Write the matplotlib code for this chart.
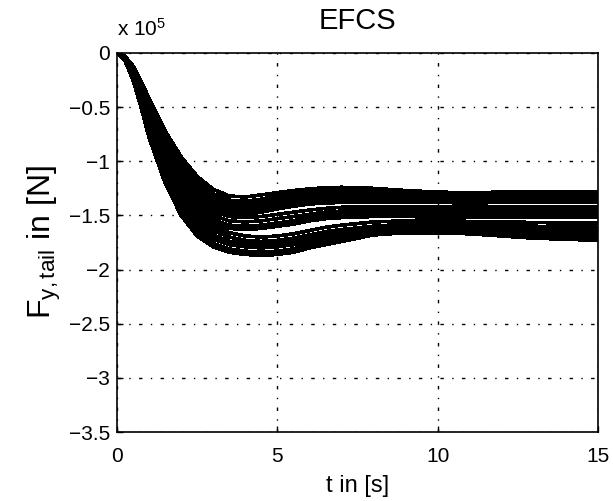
import numpy as np
import matplotlib
matplotlib.use("Agg")
import matplotlib.pyplot as plt

# lateral tail force, in units of 1e5 N, Monte-Carlo style runs
t = [0, 0.25, 0.5, 0.75, 1, 1.5, 2, 2.5, 3, 3.5, 4, 4.5, 5, 5.5, 6, 6.5, 7,
     8, 9, 10, 11, 12, 13, 14, 15]

# upper group
u1 = [0, -0.03, -0.12, -0.26, -0.42, -0.72, -0.96, -1.14, -1.26, -1.32, -1.33, -1.31, -1.29, -1.27, -1.255, -1.245, -1.24, -1.25, -1.27, -1.285, -1.29, -1.285, -1.28, -1.28, -1.28]
u2 = [0, -0.03, -0.13, -0.27, -0.44, -0.75, -0.99, -1.17, -1.30, -1.36, -1.37, -1.35, -1.32, -1.30, -1.285, -1.275, -1.27, -1.28, -1.29, -1.30, -1.305, -1.30, -1.30, -1.30, -1.30]
u3 = [0, -0.03, -0.13, -0.28, -0.45, -0.77, -1.02, -1.20, -1.33, -1.39, -1.40, -1.38, -1.35, -1.32, -1.305, -1.295, -1.29, -1.30, -1.31, -1.32, -1.325, -1.32, -1.32, -1.32, -1.32]
u4 = [0, -0.04, -0.14, -0.29, -0.47, -0.79, -1.05, -1.23, -1.36, -1.42, -1.43, -1.41, -1.38, -1.35, -1.335, -1.325, -1.32, -1.325, -1.335, -1.34, -1.345, -1.34, -1.34, -1.34, -1.34]
u5 = [0, -0.04, -0.14, -0.30, -0.48, -0.81, -1.08, -1.26, -1.39, -1.45, -1.46, -1.44, -1.41, -1.385, -1.365, -1.355, -1.35, -1.35, -1.355, -1.36, -1.365, -1.36, -1.36, -1.36, -1.36]
u6 = [0, -0.04, -0.15, -0.31, -0.50, -0.84, -1.11, -1.29, -1.42, -1.48, -1.49, -1.47, -1.44, -1.415, -1.395, -1.385, -1.38, -1.375, -1.375, -1.38, -1.385, -1.38, -1.38, -1.38, -1.38]

# middle group
m1 = [0, -0.04, -0.15, -0.32, -0.51, -0.86, -1.14, -1.34, -1.46, -1.51, -1.52, -1.51, -1.49, -1.47, -1.45, -1.435, -1.425, -1.42, -1.42, -1.42, -1.42, -1.42, -1.42, -1.42, -1.42]
m2 = [0, -0.04, -0.16, -0.33, -0.53, -0.89, -1.17, -1.38, -1.50, -1.55, -1.56, -1.55, -1.53, -1.51, -1.49, -1.47, -1.46, -1.45, -1.45, -1.455, -1.46, -1.46, -1.46, -1.46, -1.46]
m3 = [0, -0.05, -0.16, -0.34, -0.55, -0.92, -1.21, -1.42, -1.54, -1.59, -1.60, -1.59, -1.57, -1.55, -1.52, -1.50, -1.49, -1.48, -1.48, -1.485, -1.49, -1.49, -1.49, -1.49, -1.49]
m4 = [0, -0.05, -0.17, -0.35, -0.57, -0.95, -1.24, -1.45, -1.57, -1.62, -1.63, -1.62, -1.60, -1.58, -1.55, -1.53, -1.52, -1.51, -1.51, -1.515, -1.52, -1.52, -1.52, -1.52, -1.52]

# lower group
l1 = [0, -0.05, -0.18, -0.37, -0.60, -0.99, -1.29, -1.49, -1.60, -1.66, -1.69, -1.70, -1.69, -1.67, -1.64, -1.61, -1.59, -1.56, -1.55, -1.55, -1.555, -1.56, -1.565, -1.57, -1.57]
l2 = [0, -0.05, -0.19, -0.39, -0.63, -1.03, -1.33, -1.53, -1.64, -1.70, -1.73, -1.74, -1.73, -1.71, -1.68, -1.65, -1.63, -1.60, -1.58, -1.58, -1.585, -1.59, -1.60, -1.605, -1.61]
l3 = [0, -0.06, -0.20, -0.41, -0.66, -1.07, -1.37, -1.57, -1.68, -1.74, -1.76, -1.77, -1.76, -1.74, -1.71, -1.68, -1.66, -1.62, -1.60, -1.60, -1.61, -1.62, -1.63, -1.635, -1.64]
l4 = [0, -0.06, -0.21, -0.43, -0.69, -1.11, -1.41, -1.61, -1.72, -1.77, -1.79, -1.80, -1.79, -1.77, -1.74, -1.71, -1.68, -1.64, -1.62, -1.62, -1.63, -1.645, -1.655, -1.665, -1.67]
l5 = [0, -0.07, -0.23, -0.46, -0.73, -1.15, -1.45, -1.65, -1.76, -1.81, -1.83, -1.84, -1.83, -1.81, -1.77, -1.74, -1.71, -1.66, -1.64, -1.64, -1.65, -1.67, -1.68, -1.69, -1.70]
l6 = [0, -0.07, -0.25, -0.50, -0.78, -1.20, -1.50, -1.69, -1.79, -1.84, -1.86, -1.87, -1.86, -1.84, -1.80, -1.77, -1.74, -1.68, -1.66, -1.66, -1.67, -1.69, -1.71, -1.72, -1.73]

runs = [u1, u2, u3, u4, u5, u6, m1, m2, m3, m4, l1, l2, l3, l4, l5, l6]

xticks = [0, 5, 10, 15]
yticks = [0, -0.5, -1, -1.5, -2, -2.5, -3, -3.5]
yticklabels = ['0', '\u22120.5', '\u22121', '\u22121.5', '\u22122', '\u22122.5', '\u22123', '\u22123.5']

plt.rcParams['font.family'] = ['Liberation Sans', 'DejaVu Sans']
plt.rcParams['mathtext.fontset'] = 'custom'
plt.rcParams['mathtext.rm'] = 'Liberation Sans'
plt.rcParams['mathtext.it'] = 'Liberation Sans'

fig = plt.figure(figsize=(6.13, 5.01), dpi=100)
ax = fig.add_axes([117/613, 1 - 432/501, (598 - 117)/613, (432 - 53)/501])

ax.set_xlim(0, 15)
ax.set_ylim(-3.5, 0)
ax.grid(True, color='black', linewidth=1.0, linestyle=(0, (2.5, 6, 1, 6)))
ax.set_axisbelow(True)

for r in runs:
    ax.plot(t, r, color='black', lw=1.9, antialiased=False)

ax.set_xticks(xticks)
ax.set_xticklabels([str(x) for x in xticks])
ax.set_yticks(yticks)
ax.set_yticklabels(yticklabels)
ax.tick_params(direction='in', length=4, width=1, labelsize=15, colors='black')
ax.tick_params(axis='x', pad=11)
ax.tick_params(axis='y', pad=5)
for s in ax.spines.values():
    s.set_linewidth(1.2)
    s.set_zorder(5)

ax.set_title('EFCS', fontsize=21, pad=17)
ax.set_xlabel('t in [s]', fontsize=17, labelpad=6)
ax.set_ylabel(r'F$_{\mathrm{y,tail}}$ in [N]', fontsize=23, labelpad=4)
ax.text(0.0, 1.035, r'x 10$^{5}$', transform=ax.transAxes, fontsize=15,
        ha='left', va='bottom')

fig.savefig('out.png', dpi=100)
